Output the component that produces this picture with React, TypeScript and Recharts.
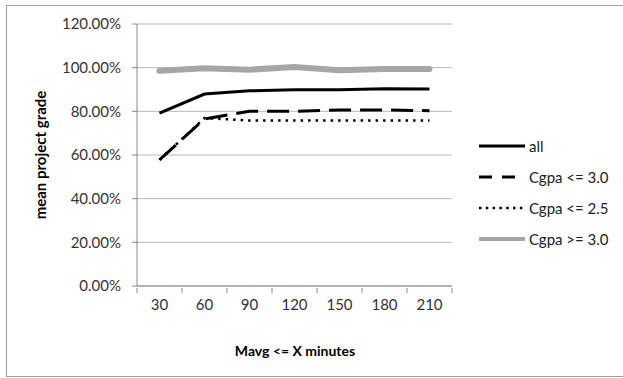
import React from 'react';
import { LineChart, Line, XAxis, YAxis, CartesianGrid } from 'recharts';

const minutes = [30, 60, 90, 120, 150, 180, 210];
const allStudents = [0.792, 0.879, 0.894, 0.899, 0.899, 0.904, 0.902];
const cgpaLe30 = [0.578, 0.765, 0.8, 0.8, 0.806, 0.806, 0.803];
const cgpaLe25 = [0.578, 0.769, 0.758, 0.758, 0.758, 0.758, 0.758];
const cgpaGe30 = [0.986, 0.997, 0.991, 1.003, 0.988, 0.994, 0.994];
const yTicks = [0, 0.2, 0.4, 0.6, 0.8, 1.0, 1.2];

const data = minutes.map((m, i) => ({
  x: m,
  all: allStudents[i],
  le30: cgpaLe30[i],
  le25: cgpaLe25[i],
  ge30: cgpaGe30[i],
}));

// Excel-style category axis: tick marks sit between categories
const step = minutes[1] - minutes[0];
const boundaries = [minutes[0] - step / 2, ...minutes.map((m) => m + step / 2)];
const xTicks = [...boundaries, ...minutes].sort((a, b) => a - b);

const FONT = 'Lato, "Open Sans", sans-serif';

const series = [
  { key: 'all', name: 'all', color: '#000', width: 3, dash: undefined as string | undefined, legendDash: undefined as string | undefined },
  { key: 'le30', name: 'Cgpa <= 3.0', color: '#000', width: 3, dash: '22 9', legendDash: '13 10' },
  { key: 'le25', name: 'Cgpa <= 2.5', color: '#000', width: 2.5, dash: '2.5 5', legendDash: '2.5 4.3' },
  { key: 'ge30', name: 'Cgpa >= 3.0', color: '#a6a6a6', width: 6, dash: undefined, legendDash: undefined },
];

const XTick = (props: any) => {
  const { x, y, payload } = props;
  if (minutes.includes(payload.value)) {
    return (
      <text x={x} y={y + 22} textAnchor="middle" fontSize={15} fill="#333" fontFamily={FONT}>
        {payload.value}
      </text>
    );
  }
  return <line x1={x} x2={x} y1={y} y2={y + 5} stroke="#888" />;
};

const App: React.FC = () => {
  const drawOrder = ['ge30', 'all', 'le25', 'le30'];
  return (
    <div style={{ position: 'absolute', left: 0, top: 0, width: 623, height: 378, background: '#fff', overflow: 'hidden' }}>
      <div style={{ position: 'absolute', left: 6, top: 5, width: 640, height: 370, border: '1px solid #a0a0a0' }} />
      <LineChart
        width={623}
        height={378}
        data={data}
        margin={{ top: 24, right: 171, bottom: 0, left: 30 }}
        style={{ position: 'absolute', left: 0, top: 0 }}
      >
        <CartesianGrid vertical={false} stroke="#b8b8b8" />
        <XAxis
          dataKey="x"
          type="number"
          domain={[boundaries[0], boundaries[boundaries.length - 1]]}
          ticks={xTicks}
          interval={0}
          tick={<XTick />}
          tickLine={false}
          tickSize={0}
          axisLine={{ stroke: '#888' }}
          height={92}
        />
        <YAxis
          type="number"
          domain={[0, 1.2]}
          ticks={yTicks}
          interval={0}
          width={107}
          tickFormatter={(v: number) => `${(v * 100).toFixed(2)}%`}
          tick={{ fontSize: 15, fill: '#333', fontFamily: FONT }}
          tickLine={{ stroke: '#888' }}
          tickSize={5}
          tickMargin={11}
          axisLine={{ stroke: '#888' }}
        />
        {drawOrder.map((k) => {
          const s = series.find((d) => d.key === k)!;
          return (
            <Line
              key={s.key}
              dataKey={s.key}
              name={s.name}
              stroke={s.color}
              strokeWidth={s.width}
              strokeDasharray={s.dash}
              strokeLinecap={s.key === 'ge30' ? 'round' : 'butt'}
              type="linear"
              dot={false}
              isAnimationActive={false}
            />
          );
        })}
      </LineChart>
      <div
        style={{
          position: 'absolute',
          left: 40,
          top: 155,
          transform: 'translate(-50%, -50%) rotate(-90deg)',
          whiteSpace: 'nowrap',
          fontFamily: FONT,
          fontWeight: 'bold',
          fontSize: 15,
          color: '#000',
        }}
      >
        mean project grade
      </div>
      <div
        style={{
          position: 'absolute',
          left: 295,
          top: 350,
          transform: 'translate(-50%, -50%)',
          whiteSpace: 'nowrap',
          fontFamily: FONT,
          fontWeight: 'bold',
          fontSize: 14,
          color: '#000',
        }}
      >
        Mavg &lt;= X minutes
      </div>
      {series.map((s, i) => (
        <div key={s.key} style={{ position: 'absolute', left: 479, top: 146 + i * 31 - 10, height: 20, display: 'flex', alignItems: 'center' }}>
          <svg width={47} height={20} style={{ display: 'block' }}>
            <line x1={0} x2={46} y1={10} y2={10} stroke={s.color} strokeWidth={s.key === 'ge30' ? 4 : s.width} strokeDasharray={s.legendDash} />
          </svg>
          <span style={{ marginLeft: 3, fontFamily: FONT, fontSize: 15, color: '#222' }}>{s.name}</span>
        </div>
      ))}
    </div>
  );
};

export default App;
